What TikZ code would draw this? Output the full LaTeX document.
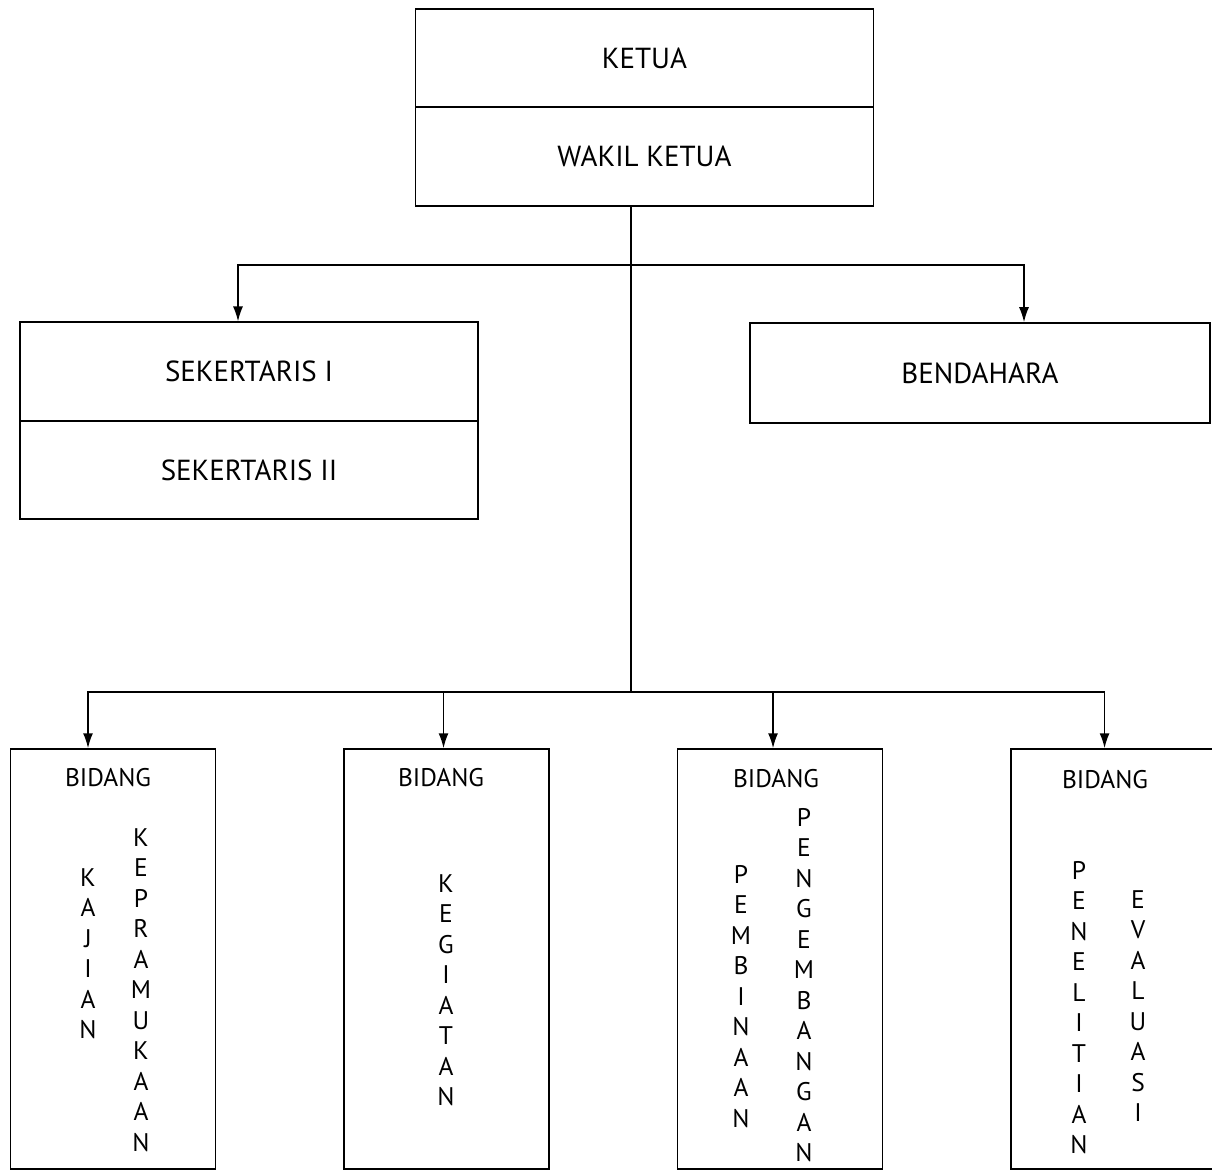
\documentclass[tikz,border=0pt]{standalone}
\usepackage{fontspec}
\setmainfont{PT Sans}
\usetikzlibrary{positioning,arrows.meta}
\begin{document}
\begin{tikzpicture}[x=0.02cm, y=-0.02cm, line width=0.9pt, >={Latex[length=3mm,width=2mm]}]
        	\tikzstyle{box} = [draw, minimum width=9.16cm, minimum height=1.97cm, align=center, font=\fontsize{16.5}{20}\selectfont];
        	\tikzstyle{tallbox} = [draw, minimum width=4.1cm, minimum height=8.4cm];
        	\tikzstyle{label} = [font=\fontsize{14.5}{17}\selectfont];
        	\tikzstyle{vword} = [align=center, anchor=north, inner sep=0pt, font=\fontsize{14.5}{17.36}\selectfont];
        	\useasboundingbox (0,0) rectangle (1212,1175);

        	\node[box] (ketua) at (644.5,58) {KETUA};
        	\node[box, below=-0.9pt of ketua] (wakil) {WAKIL KETUA};
        	\node[box] (sek1) at (249,371.5) {SEKERTARIS I};
        	\node[box, below=-0.9pt of sek1] (sek2) {SEKERTARIS II};
        	\node[box, minimum width=9.2cm, minimum height=2cm] (bend) at (980,373) {BENDAHARA};

        	\node[tallbox] (bid1) at (113,959) {};
        	\node[tallbox, right=2.54cm of bid1] (bid2) {};
        	\node[tallbox, right=2.54cm of bid2] (bid3) {};
        	\node[tallbox, right=2.54cm of bid3] (bid4) {};

        	\node[label] (lab1) at (108,778) {BIDANG};
        	\node[label] (lab2) at (441,778) {BIDANG};
        	\node[label] (lab3) at (776,779) {BIDANG};
        	\node[label] (lab4) at (1105,780) {BIDANG};

        	\node[vword] (kajian) at (88,867.5) {K\\A\\J\\I\\A\\N};
        	\node[vword] (pramuka) at (141,827.5) {K\\E\\P\\R\\A\\M\\U\\K\\A\\A\\N};
        	\node[vword] (kegiatan) at (446,873.5) {K\\E\\G\\I\\A\\T\\A\\N};
        	\node[vword] (pembinaan) at (741,864.5) {P\\E\\M\\B\\I\\N\\A\\A\\N};
        	\node[vword] (pengembangan) at (804,807.5) {P\\E\\N\\G\\E\\M\\B\\A\\N\\G\\A\\N};
        	\node[vword] (penelitian) at (1079,860.5) {P\\E\\N\\E\\L\\I\\T\\I\\A\\N};
        	\node[vword] (evaluasi) at (1138,889.5) {E\\V\\A\\L\\U\\A\\S\\I};

        	\coordinate (up) at (631,265);
        	\coordinate (low) at (631,692);

            \draw (wakil.south -| low) -- (low);
            \draw[->] (up) -| ([xshift=-0.22cm]sek1.north);
            \draw[->] (up) -| ([xshift=0.88cm]bend.north);
            \draw[->] (low) -| ([xshift=-0.5cm]bid1.north);
            \draw[->] (low) -| ([xshift=-0.06cm]bid2.north);
            \draw[->] (low) -| ([xshift=-0.14cm]bid3.north);
            \draw[->] (low) -| ([xshift=-0.18cm]bid4.north);
    	\end{tikzpicture}
\end{document}
